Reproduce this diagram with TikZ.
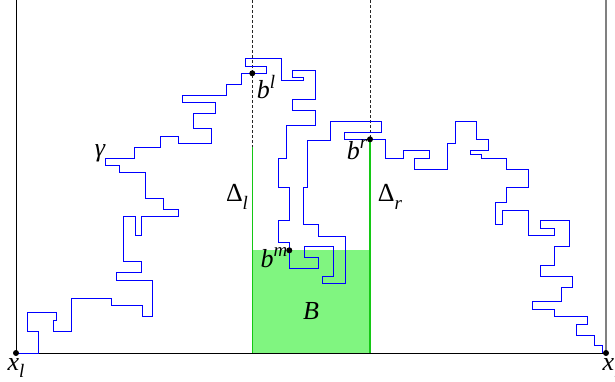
\documentclass[tikz,border=0pt]{standalone}
\usepackage{fontspec}
\newfontfamily\tms{Liberation Serif}
\usetikzlibrary{calc}
\definecolor{fillgreen}{RGB}{128,245,128}
\definecolor{linegreen}{RGB}{20,200,20}
\definecolor{pathblue}{RGB}{0,0,255}
\newcommand{\supl}[2]{#1\raisebox{0.42em}{\fontsize{9.5}{10}\selectfont #2}}
\newcommand{\subl}[2]{#1\raisebox{-0.28em}{\fontsize{9.5}{10}\selectfont\itshape #2}}
\tikzset{
  walk/.style={draw=pathblue,line width=0.5pt,line join=miter},
  axis/.style={draw=black,line width=0.5pt},
  guide/.style={draw=black!85,line width=0.4pt,dash pattern=on 1.5pt off 1pt},
  wall/.style={draw=linegreen,line width=0.7pt},
  pt/.style={fill=black,circle,inner sep=0pt,minimum size=3pt},
  lab/.style={inner sep=0pt,font=\fontsize{13}{15}\selectfont\tms\itshape}
}
\begin{document}
\begin{tikzpicture}[x=0.5pt,y=-0.5pt]
\useasboundingbox (0,0) rectangle (615,381);
% named points
\coordinate (xl) at (16,353);
\coordinate (xr) at (606,353);
\coordinate (bl) at (252.3,73.3);
\coordinate (br) at (370,139.3);
\coordinate (bm) at (289.3,250.3);
\coordinate (topl) at (252.3,0);
\coordinate (topr) at (370,0);
\coordinate (gl) at (252.3,146.7);
\coordinate (botl) at (252.3,353);
\coordinate (botr) at (370,353);
\coordinate (lt) at (16,0);
\coordinate (rt) at (606,0);
% region B
\fill[fillgreen] (252.3,250) rectangle (370,353);
% walls
\draw[wall] (gl) -- (botl);
\draw[wall] (br) -- (botr);
% guides
\draw[guide] (topl) -- (gl);
\draw[guide] (topr) -- (br);
% frame
\draw[axis] (lt) -- (xl) -- (xr);
\draw[draw=black!50,line width=0.75pt] (rt) -- (xr);
% the walk gamma
\draw[walk] (xl) -- (38.3,353) -- (38.3,331) -- (27.3,331) -- (27.3,312.7) -- (56.7,312.7) -- (56.7,320) -- (53.3,320) -- (53.3,331) -- (71.7,331) -- (71.7,298.3) -- (111.7,298.3) -- (111.7,305.7) -- (142.3,305.7) -- (142.3,316.7) -- (152.7,316.7) -- (152.7,280) -- (116,280) -- (116,272) -- (141.7,272) -- (141.7,261.3) -- (123.3,261.3) -- (123.3,216.7) -- (135,216.7) -- (135,235) -- (141.7,235) -- (141.7,216.7) -- (178.3,216.7) -- (178.3,209.3) -- (163.3,209.3) -- (163.3,198.3) -- (145,198.3) -- (145,172.7) -- (119.3,172.7) -- (119.3,165) -- (105,165) -- (105,158.3) -- (134.3,158.3) -- (134.3,147.3) -- (160,147.3) -- (160,136) -- (178.3,136) -- (178.3,143.3) -- (211,143.3) -- (211,128.3) -- (193.3,128.3) -- (193.3,113.3) -- (215.7,113.3) -- (215.7,102.7) -- (182,102.7) -- (182,95.5) -- (226.7,95.5) -- (226.7,84.3) -- (241,84.3) -- (241,73.3) -- (bl) -- (266.7,73.3) -- (266.7,66) -- (245,66) -- (245,58.7) -- (281.7,58.7) -- (281.7,80.5) -- (303.3,80.5) -- (303.3,77.7) -- (292.7,77.7) -- (292.7,70) -- (315,70) -- (315,99.5) -- (292.7,99.5) -- (292.7,110) -- (315,110) -- (315,125) -- (286,125) -- (286,158.3) -- (278.3,158.3) -- (278.3,187.5) -- (289.3,187.5) -- (289.3,220.7) -- (278.3,220.7) -- (278.3,242.7) -- (289.3,242.7) -- (bm) -- (289.3,268.7) -- (318.3,268.7) -- (318.3,257.3) -- (304,257.3) -- (304,246.7) -- (333,246.7) -- (333,276.7) -- (322.5,276.7) -- (322.5,283) -- (345,283) -- (345,236) -- (318.3,236) -- (318.3,224.3) -- (303.3,224.3) -- (303.3,187.7) -- (307.5,187.7) -- (307.5,140) -- (330,140) -- (330,121.7) -- (381.3,121.7) -- (381.3,132.3) -- (344.3,132.3) -- (344.3,139.3) -- (br) -- (385,139.3) -- (385,158.3) -- (403.3,158.3) -- (403.3,150.7) -- (429,150.7) -- (429,158.3) -- (414.3,158.3) -- (414.3,169.3) -- (447.3,169.3) -- (447.3,143.3) -- (455,143.3) -- (455,121.3) -- (476.7,121.3) -- (476.7,139.3) -- (488.3,139.3) -- (488.3,150.7) -- (470,150.7) -- (470,154.3) -- (481,154.3) -- (481,158.3) -- (506.7,158.3) -- (506.7,169.3) -- (528.3,169.3) -- (528.3,187) -- (506.7,187) -- (506.7,202.7) -- (495.7,202.7) -- (495.7,224) -- (502.7,224) -- (502.7,210) -- (528.3,210) -- (528.3,235) -- (554.3,235) -- (554.3,228.3) -- (540,228.3) -- (540,220.7) -- (569.3,220.7) -- (569.3,246.7) -- (554.3,246.7) -- (554.3,265) -- (540,265) -- (540,276) -- (572.7,276) -- (572.7,287.3) -- (561.7,287.3) -- (561.7,301.7) -- (532.7,301.7) -- (532.7,309) -- (554.3,309) -- (554.3,316.7) -- (587.7,316.7) -- (587.7,324) -- (576.7,324) -- (576.7,335) -- (594.3,335) -- (594.3,345.7) -- (602.7,345.7) -- (602.7,353);
% dots
\node[pt] (dxl) at (xl) {};
\node[pt] (dxr) at (xr) {};
\node[pt] (dbl) at (bl) {};
\node[pt] (dbr) at (br) {};
\node[pt] (dbm) at (bm) {};
% labels
\node[lab] (lgamma) at (100,153) {γ};
\node[lab] (lbl) at (266,87) {\supl{b}{l}};
\node[lab] (lbr) at (357,150) {\supl{b}{r}};
\node[lab] (lbm) at (274,258) {\supl{b}{m}};
\node[lab] (ldl) at (237,197) {\subl{\upshape Δ}{l}};
\node[lab] (ldr) at (390,197) {\subl{\upshape Δ}{r}};
\node[lab] (lB) at (311,311) {B};
\node[lab] (lxl) at (16,368) {\subl{x}{l}};
\node[lab] (lxr) at (612,368) {\subl{x}{r}};
\end{tikzpicture}
\end{document}
